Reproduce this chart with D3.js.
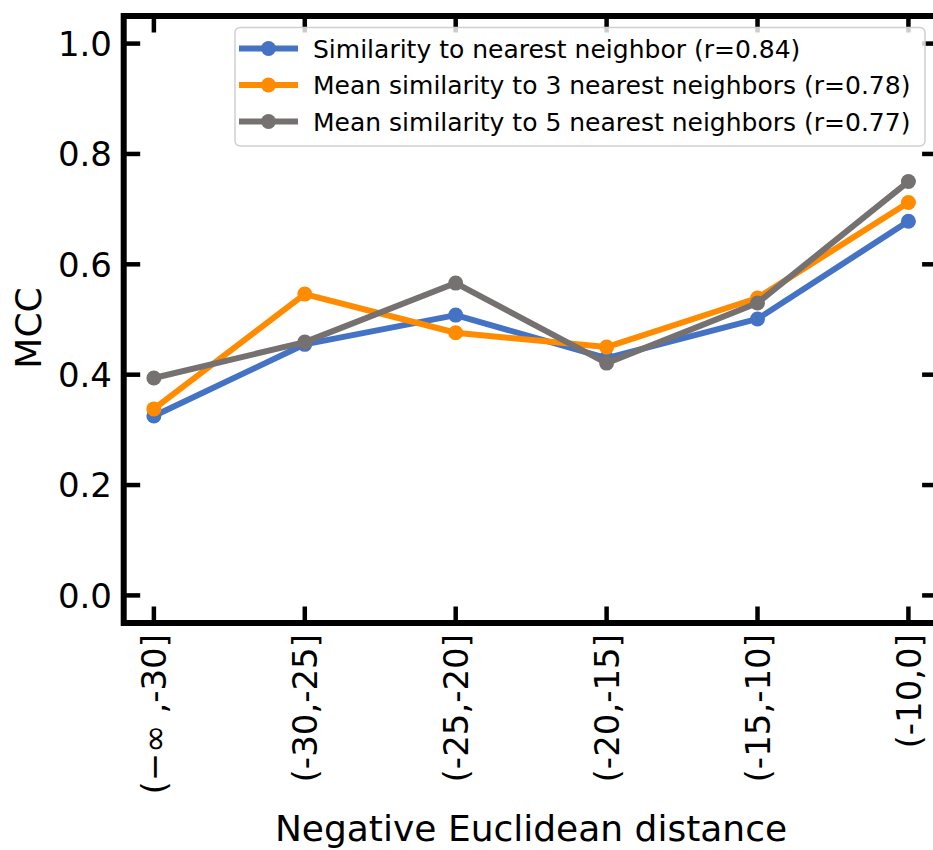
<!DOCTYPE html>
<html>
<head>
<meta charset="utf-8">
<script src="https://cdn.jsdelivr.net/npm/d3@7.9.0/dist/d3.min.js"></script>
<style>
  body { margin: 0; background: #fff; }
  svg { display: block; font-family: "DejaVu Sans", sans-serif; }
</style>
</head>
<body>
<div id="chart"></div>
<script>
// distance bins (x categories)
const bins = ["(\u2212\u221e ,-30]", "(-30,-25]", "(-25,-20]", "(-20,-15]", "(-15,-10]", "(-10,0]"];

// MCC per bin
const nearest1 = [0.325, 0.455, 0.508, 0.430, 0.501, 0.678];
const nearest3 = [0.338, 0.546, 0.476, 0.450, 0.539, 0.712];
const nearest5 = [0.394, 0.459, 0.566, 0.421, 0.530, 0.750];

const seriesNames = [
  "Similarity to nearest neighbor (r=0.84)",
  "Mean similarity to 3 nearest neighbors (r=0.78)",
  "Mean similarity to 5 nearest neighbors (r=0.77)",
];
const yTicks = [0.0, 0.2, 0.4, 0.6, 0.8, 1.0];

const series = [
  { name: seriesNames[0], values: nearest1, color: "#4472c4" },
  { name: seriesNames[1], values: nearest3, color: "#ff8c00" },
  { name: seriesNames[2], values: nearest5, color: "#767171" },
];

const width = 933;
const height = 850;
const plot = { left: 123.7, right: 938.6, top: 16, bottom: 623 };

const svg = d3.select("#chart")
  .append("svg")
  .attr("width", width)
  .attr("height", height);

const x = d3.scaleLinear().domain([-0.2, bins.length - 0.8]).range([plot.left, plot.right]);
const y = d3.scaleLinear().domain([-0.05, 1.05]).range([plot.bottom, plot.top]);

// ticks, inward on all four sides
const tickLen = 14;
const tw = 4.5;
const ticks = svg.append("g").attr("stroke", "#000").attr("stroke-width", tw);
bins.forEach((b, i) => {
  ticks.append("line").attr("x1", x(i)).attr("x2", x(i)).attr("y1", plot.bottom).attr("y2", plot.bottom - tickLen - 2.5);
  ticks.append("line").attr("x1", x(i)).attr("x2", x(i)).attr("y1", plot.top).attr("y2", plot.top + tickLen + 2.5);
});
yTicks.forEach((t) => {
  ticks.append("line").attr("y1", y(t)).attr("y2", y(t)).attr("x1", plot.left).attr("x2", plot.left + tickLen + 2.5);
  ticks.append("line").attr("y1", y(t)).attr("y2", y(t)).attr("x1", plot.right).attr("x2", plot.right - tickLen - 2.5);
});

// y tick labels
svg.append("g")
  .selectAll("text")
  .data(yTicks)
  .join("text")
  .attr("x", 112)
  .attr("y", (d) => y(d))
  .attr("dy", "0.36em")
  .attr("text-anchor", "end")
  .attr("font-size", 34)
  .text((d) => d.toFixed(1));

// x tick labels, rotated
svg.append("g")
  .selectAll("text")
  .data(bins)
  .join("text")
  .attr("transform", (d, i) => `translate(${x(i)},634) rotate(-90)`)
  .attr("dy", "0.36em")
  .attr("text-anchor", "end")
  .attr("font-size", 34)
  .text((d) => d);

// lines + markers
const line = d3.line().x((d, i) => x(i)).y((d) => y(d));
series.forEach((s) => {
  svg.append("path")
    .attr("d", line(s.values))
    .attr("fill", "none")
    .attr("stroke", s.color)
    .attr("stroke-width", 6)
    .attr("stroke-linejoin", "round");
  svg.append("g")
    .selectAll("circle")
    .data(s.values)
    .join("circle")
    .attr("cx", (d, i) => x(i))
    .attr("cy", (d) => y(d))
    .attr("r", 7.5)
    .attr("fill", s.color);
});

// spines
svg.append("rect")
  .attr("x", plot.left)
  .attr("y", plot.top)
  .attr("width", plot.right - plot.left)
  .attr("height", plot.bottom - plot.top)
  .attr("fill", "none")
  .attr("stroke", "#000")
  .attr("stroke-width", 6);

// legend
const lg = svg.append("g");
lg.append("rect")
  .attr("x", 235)
  .attr("y", 27.5)
  .attr("width", 690)
  .attr("height", 118.5)
  .attr("rx", 5)
  .attr("fill", "#fff")
  .attr("fill-opacity", 0.8)
  .attr("stroke", "#d0d0d0")
  .attr("stroke-width", 1.5);
series.forEach((s, i) => {
  const yy = 48.5 + i * 36.5;
  lg.append("line")
    .attr("x1", 239).attr("x2", 298)
    .attr("y1", yy).attr("y2", yy)
    .attr("stroke", s.color)
    .attr("stroke-width", 6);
  lg.append("circle").attr("cx", 268.5).attr("cy", yy).attr("r", 7.5).attr("fill", s.color);
  lg.append("text")
    .attr("x", 313)
    .attr("y", yy)
    .attr("dy", "0.36em")
    .attr("font-size", 25)
    .text(s.name);
});

// axis titles
svg.append("text")
  .attr("x", 531)
  .attr("y", 841)
  .attr("text-anchor", "middle")
  .attr("font-size", 36)
  .text("Negative Euclidean distance");

svg.append("text")
  .attr("transform", "translate(41,328) rotate(-90)")
  .attr("text-anchor", "middle")
  .attr("font-size", 36)
  .text("MCC");
</script>
</body>
</html>
